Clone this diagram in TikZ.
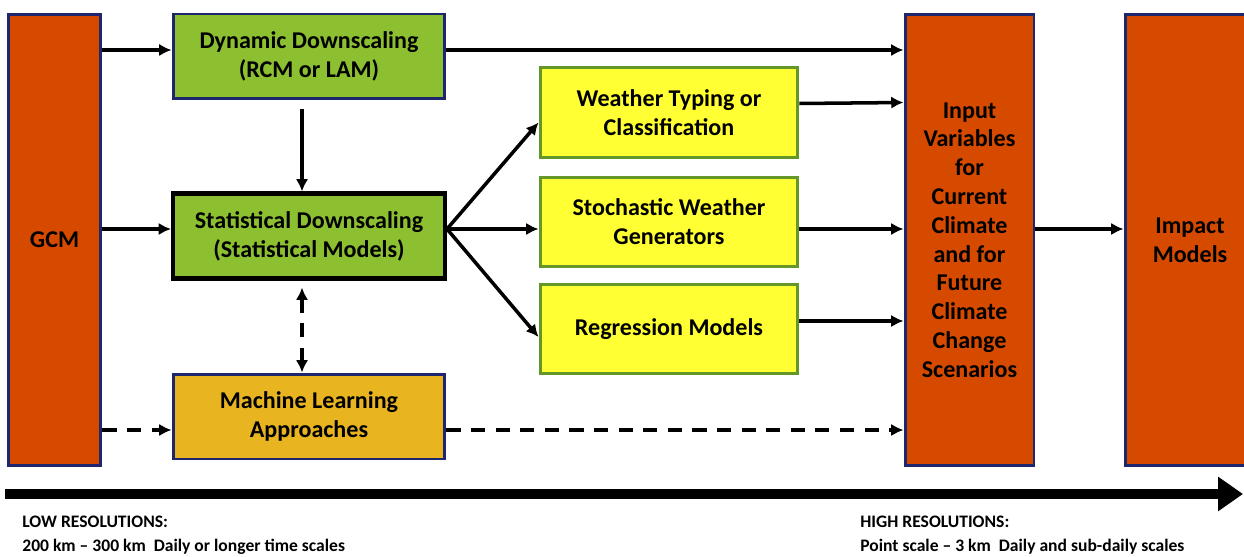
\documentclass[tikz,border=0pt]{standalone}
\usepackage{fontspec}
\setmainfont{Carlito}
\usepackage{tikz}
\usetikzlibrary{arrows.meta}

\definecolor{gcmOrange}{RGB}{214,74,0}
\definecolor{boxNavy}{RGB}{30,38,110}
\definecolor{dsGreen}{RGB}{140,192,48}
\definecolor{mlGold}{RGB}{232,180,32}
\definecolor{wgYellow}{RGB}{255,255,51}
\definecolor{wgBorder}{RGB}{100,150,40}

\begin{document}
\begin{tikzpicture}[x=0.02cm, y=-0.02cm, >={Latex[length=7pt,width=7pt]},
    box/.style = {draw=boxNavy, line width=1.7pt, align=center, inner sep=2pt,
                  font=\fontsize{13.7}{16.4}\selectfont\bfseries},
    tall/.style = {box, fill=gcmOrange, minimum width=1.86cm, minimum height=9.04cm},
    dsbox/.style = {box, fill=dsGreen, minimum width=5.44cm, minimum height=1.7cm},
    wgbox/.style = {box, draw=wgBorder, fill=wgYellow, minimum width=5.16cm, minimum height=1.8cm},
    link/.style = {->, line width=2pt},
    dlink/.style = {link, dash pattern=on 8pt off 6pt}]
            %\draw [step = 1 cm, help lines] (0,0) grid (1244,557);
            \useasboundingbox (0,0) rectangle (1244,557);

            % columns
            \node [tall] (gcm) at (54.5,240) {GCM};
            \node [tall, minimum width=2.58cm] (inp) at (969.5,240) {Input\\Variables\\for\\Current\\Climate\\and for\\Future\\Climate\\Change\\Scenarios};
            \node [tall, minimum width=2.6cm] (imp) at (1190,240) {Impact\\Models};

            % downscaling boxes
            \node [dsbox] (dyn) at (309,56.5) {Dynamic Downscaling\\(RCM or LAM)};
            \node [dsbox, draw=black, line width=2.3pt] (stat) at (309,236) {Statistical Downscaling\\(Statistical Models)};
            \node [dsbox, fill=mlGold] (ml) at (309,416.5) {Machine Learning\\Approaches};

            % weather generator boxes
            \node [wgbox] (wt) at (669,112.5) {Weather Typing or\\Classification};
            \node [wgbox] (sw) at (669,222) {Stochastic Weather\\Generators};
            \node [wgbox] (reg) at (669,329) {Regression Models};

            % arrow rows
            \coordinate (r1) at (0,50);
            \coordinate (r2) at (0,229);
            \coordinate (r3) at (0,430);

            \draw [link] (gcm.east |- r1) -- (dyn.west |- r1);
            \draw [link] (dyn.east |- r1) -- (inp.west |- r1);
            \draw [link] (gcm.east |- r2) -- (stat.west |- r2);
            \draw [dlink] (gcm.east |- r3) -- (ml.west |- r3);
            \draw [dlink] (ml.east |- r3) -- (inp.west |- r3);

            \draw [link, shorten <=5pt] ([xshift=-0.14cm]dyn.south) -- ([xshift=-0.14cm]stat.north);
            \draw [dlink, <->, shorten <=4pt] ([xshift=-0.14cm]stat.south) -- ([xshift=-0.14cm]ml.north);

            \draw [link] (stat.east |- r2) -- ([yshift=-0.2cm]wt.west);
            \draw [link] (stat.east |- r2) -- (sw.west |- r2);
            \draw [link] (stat.east |- r2) -- ([yshift=-0.16cm]reg.west);

            \draw [link] ([yshift=0.18cm]wt.east) -- ([yshift=0.2cm]wt.east -| inp.west);
            \draw [link] (sw.east |- r2) -- (inp.west |- r2);
            \draw [link] ([yshift=0.16cm]reg.east) -- ([yshift=0.16cm]reg.east -| inp.west);
            \draw [link] (inp.east |- r2) -- (imp.west |- r2);

            % resolution scale
            \coordinate (scaleL) at (5,494);
            \coordinate (scaleR) at (1243,494);
            \draw [line width=6pt, -{Triangle[length=0.5cm, width=0.66cm]}] (scaleL) -- (scaleR);

            \node [anchor=west, align=left, inner sep=0, font=\fontsize{10}{13.6}\selectfont\bfseries] (lowres) at (22,535) {LOW RESOLUTIONS:\\200 km -- 300 km\ \ Daily or longer time scales};
            \node [anchor=west, align=left, inner sep=0, font=\fontsize{10}{13.6}\selectfont\bfseries] (highres) at (860,535) {HIGH RESOLUTIONS:\\Point scale -- 3 km\ \ Daily and sub-daily scales};
        \end{tikzpicture}
\end{document}
